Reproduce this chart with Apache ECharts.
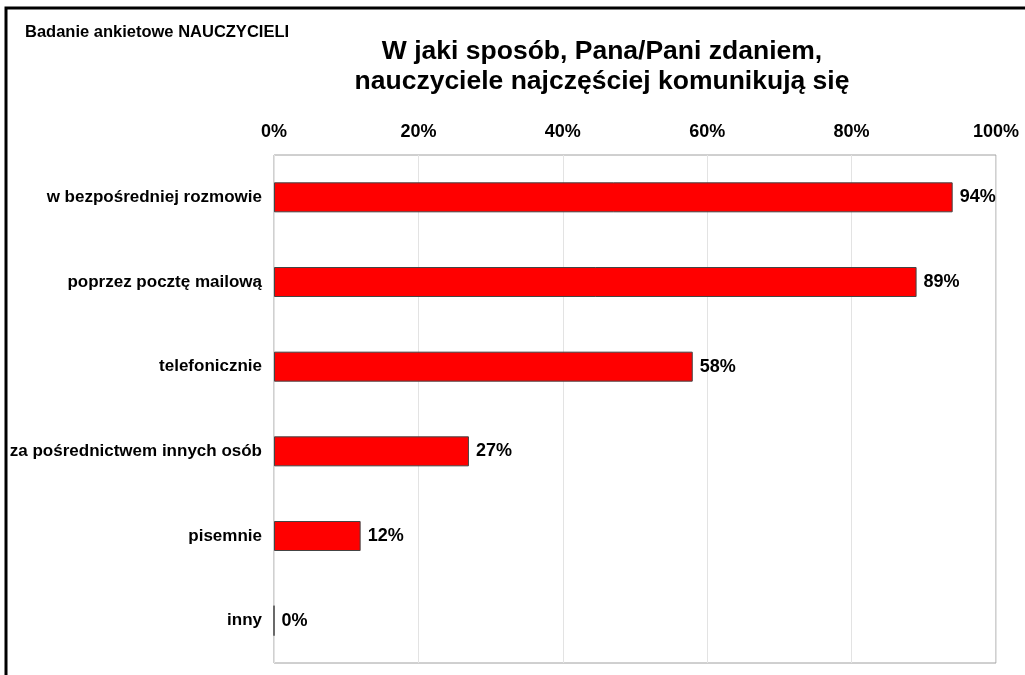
<!DOCTYPE html>
<html>
<head>
<meta charset="utf-8">
<script src="https://cdn.jsdelivr.net/npm/echarts@6/dist/echarts.min.js"></script>
<style>
  html, body { margin: 0; padding: 0; background: #fff; }
  #chart { width: 1025px; height: 675px; }
</style>
</head>
<body>
<div id="chart"></div>
<script>
// dane z ankiety
var categories = ['w bezpośredniej rozmowie', 'poprzez pocztę mailową', 'telefonicznie',
                  'za pośrednictwem innych osób', 'pisemnie', 'inny'];
var values = [94, 89, 58, 27, 12, 0];

var myChart = echarts.init(document.getElementById('chart'));

var option = {
    animation: false,
    textStyle: { fontFamily: 'Liberation Sans, Arial, sans-serif' },
    title: [
        {
            text: 'Badanie ankietowe NAUCZYCIELI',
            left: 20, top: 19,
            textStyle: { fontSize: 16.5, fontWeight: 'bold', color: '#000' }
        },
        {
            text: 'W jaki sposób, Pana/Pani zdaniem,\nnauczyciele najczęściej komunikują się',
            left: 597, top: 32, textAlign: 'center',
            textStyle: { fontSize: 26.5, fontWeight: 'bold', color: '#000', lineHeight: 30 }
        }
    ],
    graphic: [
        {
            type: 'polyline',
            shape: { points: [[6, 675], [6, 8], [1025, 8]] },
            style: { stroke: '#000', lineWidth: 3, fill: null }
        }
    ],
    grid: {
        left: 274, right: 29, top: 155, bottom: 12,
        show: true, borderColor: '#a0a0a0', borderWidth: 1
    },
    xAxis: {
        type: 'value',
        position: 'top',
        min: 0, max: 100, interval: 20,
        axisLine: { show: false },
        axisTick: { show: false },
        axisLabel: {
            formatter: '{value}%',
            fontSize: 18, fontWeight: 'bold', color: '#000', margin: 14
        },
        splitLine: { show: true, lineStyle: { color: '#e3e3e3', width: 1 } }
    },
    yAxis: {
        type: 'category',
        inverse: true,
        data: categories,
        axisLine: { show: false },
        axisTick: { show: false },
        axisLabel: { fontSize: 17, fontWeight: 'bold', color: '#000', margin: 12 }
    },
    series: [
        {
            type: 'bar',
            data: values,
            barWidth: 30,
            itemStyle: { color: '#ff0000', borderColor: '#444', borderWidth: 1 },
            label: {
                show: true, position: 'right', distance: 7,
                formatter: '{c}%',
                fontSize: 18, fontWeight: 'bold', color: '#000'
            }
        }
    ]
};

myChart.setOption(option);
</script>
</body>
</html>
